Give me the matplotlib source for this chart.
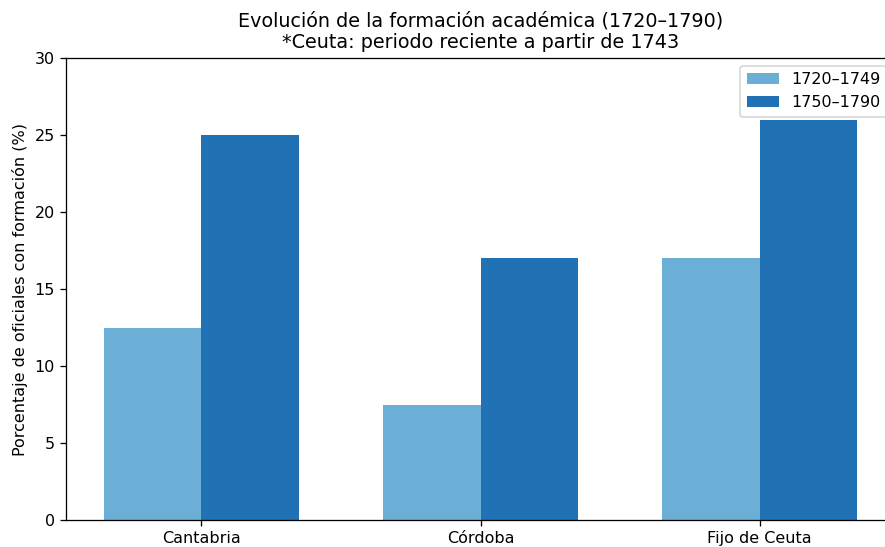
import numpy as np
import matplotlib.pyplot as plt

# Data
categories = ["Cantabria", "Córdoba", "Fijo de Ceuta"]
early = [12.5, 7.5, 17]   # 1720–1749
late = [25, 17, 26]       # 1750–1790
series_labels = ["1720–1749", "1750–1790"]

DPI = 115
fig = plt.figure(figsize=(885 / DPI, 547 / DPI), dpi=DPI)
# axes runs past the right edge of the figure, as in the reference
ax = fig.add_axes([66 / 885, 1 - 520 / 547, 829 / 885, 462 / 547])

x = np.arange(len(categories))
width = 0.35
ax.bar(x - width / 2, early, width, color="#6baed6", label=series_labels[0])
ax.bar(x + width / 2, late, width, color="#2171b5", label=series_labels[1])

ax.set_xticks(x)
ax.set_xticklabels(categories)
ax.set_ylim(0, 30)
ax.set_ylabel("Porcentaje de oficiales con formación (%)")
ax.set_title("Evolución de la formación académica (1720–1790)\n*Ceuta: periodo reciente a partir de 1743")
ax.legend(loc="upper right")

fig.savefig("out.png", dpi=DPI)
